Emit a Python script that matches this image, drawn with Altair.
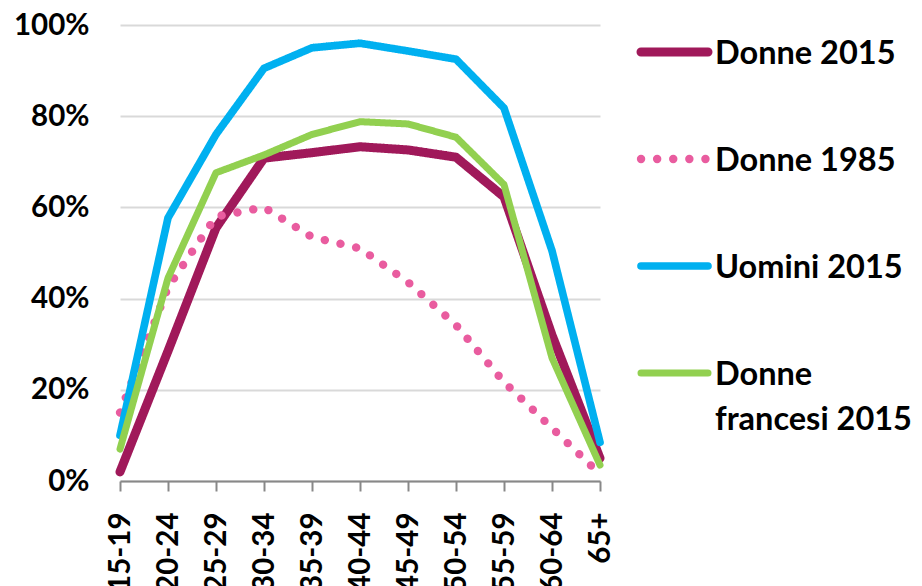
import altair as alt
import pandas as pd

ages = ["15-19", "20-24", "25-29", "30-34", "35-39", "40-44",
        "45-49", "50-54", "55-59", "60-64", "65+"]
series = ["Donne 2015", "Donne 1985", "Uomini 2015", "Donne francesi 2015"]
legend_labels = ["Donne 2015", "Donne 1985", "Uomini 2015", "Donne\nfrancesi 2015"]

donne_2015 = [0.02, 0.285, 0.555, 0.708, 0.72, 0.733, 0.726, 0.71, 0.623, 0.32, 0.05]
donne_1985 = [0.15, 0.425, 0.58, 0.60, 0.535, 0.51, 0.436, 0.342, 0.217, 0.116, 0.015]
uomini_2015 = [0.10, 0.577, 0.76, 0.905, 0.95, 0.96, 0.943, 0.925, 0.818, 0.505, 0.085]
donne_francesi_2015 = [0.07, 0.445, 0.676, 0.715, 0.76, 0.788, 0.783, 0.754, 0.65, 0.27, 0.035]

y_ticks = [0, 0.2, 0.4, 0.6, 0.8, 1.0]

# styles
colors = ["#A0195A", "#E95C9F", "#00B0F0", "#92D050"]
dashes = [[1, 0], [0.1, 16], [1, 0], [1, 0]]
widths = [9, 7, 9, 9]
FONT = "Lato"

values = [donne_2015, donne_1985, uomini_2015, donne_francesi_2015]
rows = []
for s, vals in zip(series, values):
    for i, (a, v) in enumerate(zip(ages, vals)):
        rows.append({"series": s, "age": a, "idx": i, "value": v})
df = pd.DataFrame(rows)
leg = pd.DataFrame({"series": series, "label": legend_labels})

color_scale = alt.Scale(domain=series, range=colors)
dash_scale = alt.Scale(domain=series, range=dashes)
width_scale = alt.Scale(domain=series, range=widths)

x_enc = alt.X("age:N", sort=ages, scale=alt.Scale(type="point", padding=0),
              axis=alt.Axis(title=None, labelAngle=270, domainColor="#888888",
                            domainWidth=2, tickColor="#888888", tickWidth=2,
                            tickSize=10, labelPadding=21, labelOverlap=False,
                            grid=False))
y_enc = alt.Y("value:Q", scale=alt.Scale(domain=[0, 1]),
              axis=alt.Axis(title=None, values=y_ticks, format=".0%", grid=True,
                            gridColor="#D9D9D9", gridWidth=2, domain=False,
                            ticks=False, tickSize=0, labelPadding=31))

layers = []
for s in series:
    layers.append(
        alt.Chart(df).transform_filter(alt.datum.series == s)
        .mark_line(strokeCap="round", strokeJoin="round")
        .encode(
            x=x_enc, y=y_enc,
            order=alt.Order("idx:Q"),
            color=alt.Color("series:N", scale=color_scale, legend=None),
            strokeDash=alt.StrokeDash("series:N", scale=dash_scale, legend=None),
            strokeWidth=alt.StrokeWidth("series:N", scale=width_scale, legend=None),
        )
    )
lines = alt.layer(*layers)

leg_y = alt.Y("series:N", scale=alt.Scale(type="point", domain=series,
                                          range=[27, 348], padding=0), axis=None)
leg_rules = alt.Chart(leg).mark_rule(strokeCap="round").encode(
    x=alt.value(521), x2=alt.value(588), y=leg_y,
    color=alt.Color("series:N", scale=color_scale, legend=None),
    strokeDash=alt.StrokeDash("series:N", scale=dash_scale, legend=None),
    strokeWidth=alt.StrokeWidth("series:N", scale=width_scale, legend=None),
)
leg_text = alt.Chart(leg).mark_text(
    align="left", baseline="top", dy=-14, font=FONT, fontSize=32.5,
    fontWeight="bold", lineBreak="\n", lineHeight=45, color="black"
).encode(x=alt.value(595), y=leg_y, text="label:N")
legend_layer = alt.layer(leg_rules, leg_text)

chart = alt.layer(lines, legend_layer).resolve_scale(
    y="independent"
).properties(
    width=480, height=456,
    autosize=alt.AutoSizeParams(type="none"),
    padding={"left": 120, "top": 25, "right": 322, "bottom": 105},
).configure_view(strokeWidth=0).configure_axis(
    labelFont=FONT, labelFontSize=29.5, labelFontWeight="bold", labelColor="black"
)

chart.save("out.html", embed_options={"renderer": "svg", "actions": False})
